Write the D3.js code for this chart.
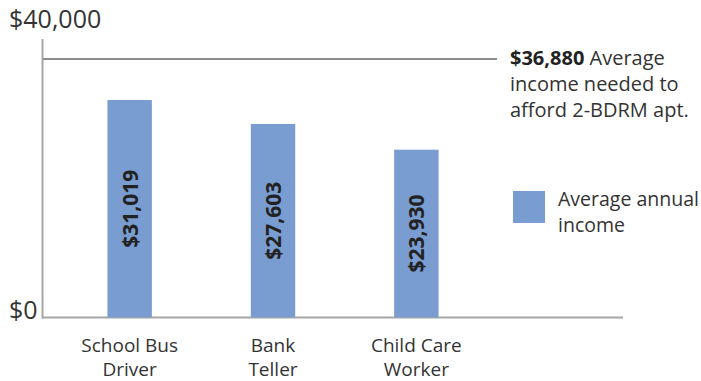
<!DOCTYPE html>
<meta charset="utf-8">
<style>
  html, body { margin:0; padding:0; background:#fff; }
  text { font-family: "Open Sans", "Noto Sans", sans-serif; fill:#333; }
</style>
<svg id="chart" width="701" height="381"></svg>
<script src="https://cdn.jsdelivr.net/npm/d3@7"></script>
<script>

    var jobs = [["School Bus", "Driver"], ["Bank", "Teller"], ["Child Care", "Worker"]];
    var incomes = [31019, 27603, 23930];
    var needed = 36880;
    var yTicks = [0, 40000];
    var noteLines = ["Average", "income needed to", "afford 2-BDRM apt."];
    var legendLines = ["Average annual", "income"];

    var svg = d3.select("#chart");
    var barColor = "#7a9dd1";
    var fmt = d3.format("$,");

    var y = d3.scaleLinear().domain([0, 40000]).range([317.5, 37]);
    var x = d3.scaleBand()
                .domain(d3.range(jobs.length))
                .range([58, 488])
                .paddingInner(0.69)
                .paddingOuter(0.345);

    // axes
    svg.append("line")
        .attr("x1", 42.5).attr("x2", 42.5)
        .attr("y1", 39).attr("y2", y(0) + 1)
        .attr("stroke", "#a6a6a6").attr("stroke-width", 2);

    svg.append("line")
        .attr("x1", 42).attr("x2", 623)
        .attr("y1", y(0)).attr("y2", y(0))
        .attr("stroke", "#a6a6a6").attr("stroke-width", 2);

    // threshold line
    svg.append("line")
        .attr("x1", 43).attr("x2", 497)
        .attr("y1", y(needed)).attr("y2", y(needed))
        .attr("stroke", "#8c8c8c").attr("stroke-width", 2);

    svg.selectAll(".ytick")
        .data(yTicks)
        .enter().append("text")
        .attr("class", "ytick")
        .attr("x", 9)
        .attr("y", function(d) { return d == 0 ? 319 : 28; })
        .attr("font-size", 25)
        .text(function(d) { return fmt(d); });

    // bars
    svg.selectAll(".bar")
        .data(incomes)
        .enter().append("rect")
        .attr("class", "bar")
        .attr("x", function(d, i) { return x(i); })
        .attr("width", x.bandwidth())
        .attr("y", function(d) { return y(d); })
        .attr("height", function(d) { return y(0) - y(d); })
        .attr("fill", barColor);

    svg.selectAll(".barlabel")
        .data(incomes)
        .enter().append("text")
        .attr("class", "barlabel")
        .attr("transform", function(d, i) {
            var cx = x(i) + x.bandwidth() / 2;
            var cy = (y(d) + y(0)) / 2;
            return "translate(" + (cx + 8) + "," + cy + ") rotate(-90)";
        })
        .attr("text-anchor", "middle")
        .attr("font-size", 21)
        .attr("font-weight", "bold")
        .style("fill", "#222")
        .text(function(d) { return fmt(d); });

    // category labels
    var cat = svg.selectAll(".cat")
        .data(jobs)
        .enter().append("text")
        .attr("class", "cat")
        .attr("text-anchor", "middle")
        .attr("font-size", 19);
    cat.selectAll("tspan")
        .data(function(d, i) { return d.map(function(s) { return { s: s, i: i }; }); })
        .enter().append("tspan")
        .attr("x", function(d) { return x(d.i) + x.bandwidth() / 2; })
        .attr("y", function(d, j) { return 352 + j * 23.5; })
        .text(function(d) { return d.s; });

    // annotation
    var note = svg.append("text").attr("font-size", 20);
    note.append("tspan")
        .attr("x", 510).attr("y", 65)
        .attr("font-weight", "bold")
        .style("fill", "#222")
        .text(fmt(needed));
    note.append("tspan").text(" " + noteLines[0]);
    note.selectAll(".nl")
        .data(noteLines.slice(1))
        .enter().append("tspan")
        .attr("class", "nl")
        .attr("x", 510)
        .attr("y", function(d, i) { return 91 + i * 26; })
        .text(function(d) { return d; });

    // legend
    svg.append("rect")
        .attr("x", 513).attr("y", 191)
        .attr("width", 32).attr("height", 32)
        .attr("fill", barColor);
    svg.append("text")
        .attr("font-size", 19.5)
        .selectAll("tspan")
        .data(legendLines)
        .enter().append("tspan")
        .attr("x", 558)
        .attr("y", function(d, i) { return 206 + i * 26; })
        .text(function(d) { return d; });

</script>
